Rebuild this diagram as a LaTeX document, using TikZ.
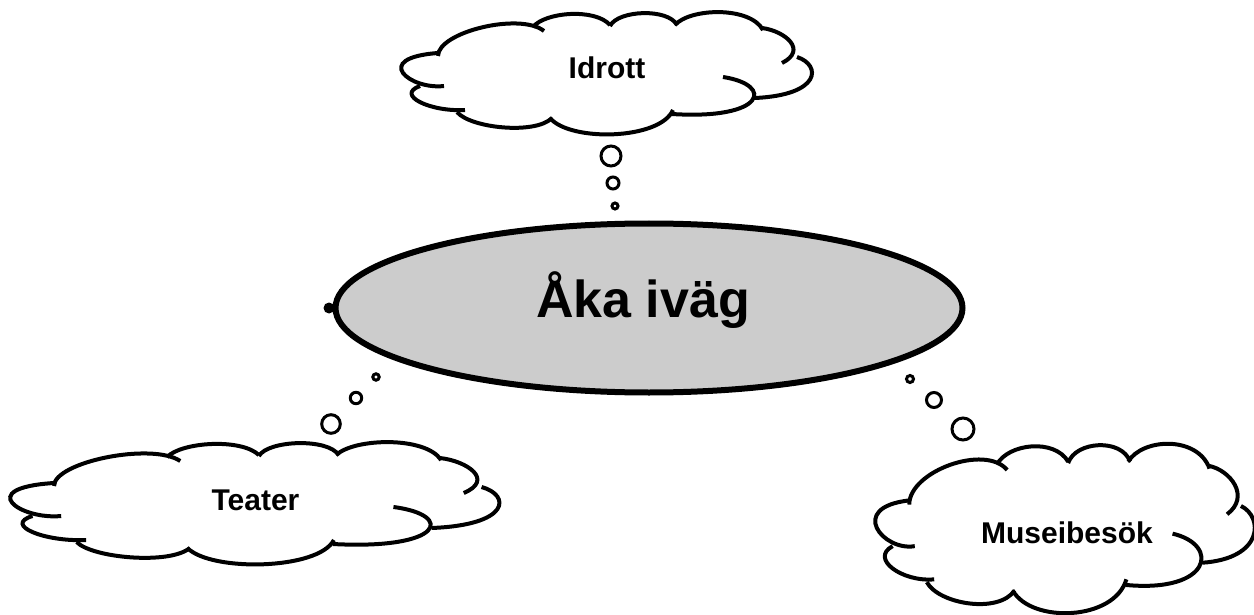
\documentclass[tikz,border=0pt]{standalone}
\usepackage{fontspec}
\setmainfont{Liberation Sans}
\usepackage{tikz}
\definecolor{tripfill}{RGB}{204,204,204}
\tikzset{
  cloudline/.style={line width=2pt},
  bubble/.style={line width=1.5pt},
  cloudlabel/.style={font=\fontsize{15}{18}\selectfont\bfseries,anchor=base},
}
% one cloud, lobe by lobe, drawn round its own centre
\newcommand{\cloudlobes}{%
  \foreach \ax/\ay/\bx/\by/\cx/\cy/\dx/\dy in {
    -167.5/-18/-167.5/-42/-85.5/-62/-61.5/-43,
    -72.5/-47/-60.5/-62/-10.5/-66/4.5/-49,
    4.5/-48/12.5/-64/62.5/-66/71.5/-49,
    69.5/-49/84.5/-66/144.5/-68/157.5/-44,
    156.5/-46/179.5/-43/202.5/-24/176.5/-11,
    191.5/-17/216/-9/216/21/149.5/24,
    117.5/3/169.5/11/159.5/46/66.5/40,
    67.5/36/54.5/66/-35.5/68/-55.5/44,
    -148.5/38/-135.5/54/-70.5/61/-53.5/44,
    -140.5/36/-175.5/38/-210.5/21/-185.5/12,
    -161.5/12/-195.5/16/-235/-16/-167.5/-21}{
    \draw[cloudline] (\ax,\ay) .. controls (\bx,\by) and (\cx,\cy) .. (\dx,\dy);
  }}

\begin{document}
\begin{tikzpicture}[x=0.5pt,y=-0.5pt]
\useasboundingbox (0,0) rectangle (1254,615);
% central ellipse
\draw[line width=3pt,fill=tripfill] (649,308) ellipse (313.5 and 84.5);
\fill (329,308) circle (5.5);
\node[font=\fontsize{26}{30}\selectfont\bfseries,anchor=base] (trip) at (643,317) {Åka iväg};
% clouds
\begin{scope}[shift={(605.5,74)}]
  \cloudlobes
\end{scope}
\node[cloudlabel] (idrott) at (607,79) {Idrott};
\begin{scope}[shift={(253.5,504)},xscale=1.191]
  \cloudlobes
\end{scope}
\node[cloudlabel] (teater) at (255.5,510) {Teater};
\begin{scope}[shift={(1064,529.5)},xscale=0.924,yscale=1.385]
  \cloudlobes
\end{scope}
\node[cloudlabel] (museum) at (1067,543) {Museibesök};
% thought bubbles
\foreach \bx/\by/\br in {611/156/10, 613/183/6, 615/206/3,
  376/377/3.2, 356/398/5.7, 331/424/9.3,
  910/379/3.5, 934/400/7.5, 963/429/11}
  \draw[bubble] (\bx,\by) circle (\br);
\end{tikzpicture}
\end{document}
